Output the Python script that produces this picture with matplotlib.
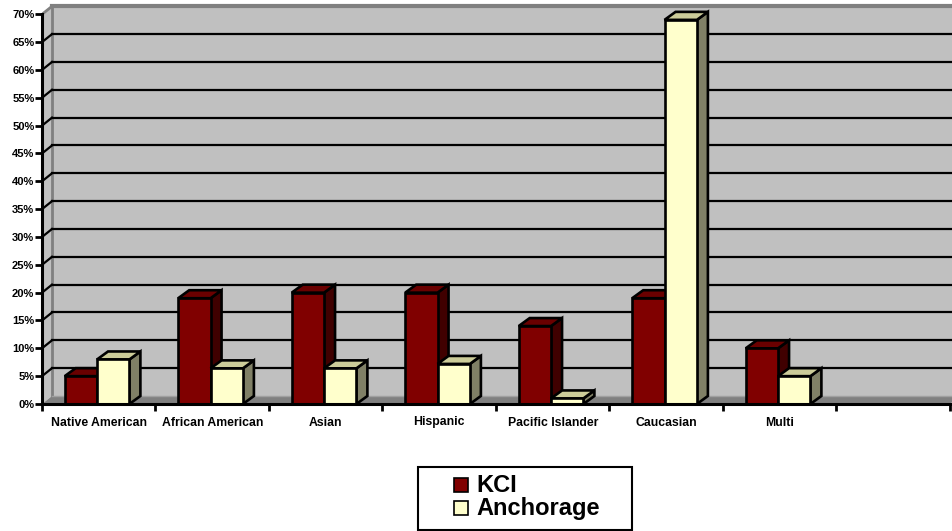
import matplotlib.pyplot as plt
from matplotlib.patches import Polygon, Rectangle

categories = ["Native American", "African American", "Asian", "Hispanic",
              "Pacific Islander", "Caucasian", "Multi", ""]
kci = [5, 19, 20, 20, 14, 19, 10]
anchorage = [8, 6.4, 6.4, 7.2, 1, 69, 5]
series_names = ["KCI", "Anchorage"]
yticks = list(range(0, 75, 5))

plt.rcParams['font.family'] = ['Liberation Sans', 'DejaVu Sans']

W, H = 953, 531
fig = plt.figure(figsize=(W / 100, H / 100), dpi=100)

# pixel geometry of the plot box
x0px, x1px = 42, 953
y0px, y70px = 404, 14.3
slot_px = 113.5
px_per_pct = (y0px - y70px) / 70.0
ddx = 10 / slot_px          # depth offset in category units
ddy = 8 / px_per_pct        # depth offset in percent units
bdx = 11 / slot_px          # bar depth
xmax = (x1px - x0px) / slot_px
ncat = len(categories)
ytop = 70 + ddy
top_px = y0px - ytop * px_per_pct

ax = fig.add_axes([x0px / W, (H - y0px) / H, (x1px - x0px) / W, (y0px - top_px) / H])
ax.set_xlim(0, xmax)
ax.set_ylim(0, ytop)

wall = "#c0c0c0"
edge_gray = "#808080"

# back wall, side wall, floor
ax.add_patch(Polygon([(ddx, ddy), (ncat + ddx, ddy), (ncat + ddx, ytop), (ddx, ytop)],
                     closed=True, fc=wall, ec="none", zorder=0, clip_on=False))
ax.add_patch(Polygon([(0, 0), (ddx, ddy), (ddx, ytop), (0, 70)],
                     closed=True, fc=wall, ec="none", zorder=0))
ax.add_patch(Polygon([(0, 0), (ncat, 0), (ncat + ddx, ddy), (ddx, ddy)],
                     closed=True, fc=edge_gray, ec="none", zorder=0, clip_on=False))
ax.plot([ddx, ddx], [ddy, ytop], color=edge_gray, lw=2, zorder=0.5)
ax.plot([ddx, ncat + ddx], [ytop, ytop], color=edge_gray, lw=3, zorder=0.5, clip_on=False)
ax.plot([0, ddx], [70, ytop], color=edge_gray, lw=2, zorder=0.5)
ax.plot([ddx, ncat + ddx], [ddy, ddy], color="#a0a0a0", lw=1, zorder=0.5, clip_on=False)

# gridlines on back and side walls
for v in yticks[1:-1]:
    ax.plot([ddx, ncat + ddx], [v + ddy, v + ddy], color="black", lw=1.6, zorder=0.6,
            clip_on=False)
    ax.plot([0, ddx], [v, v + ddy], color="black", lw=1.6, zorder=0.6)


def bar3d(x, w, v, front, top, side):
    kw = dict(closed=True, ec="black", lw=1.9, joinstyle="miter", zorder=2)
    ax.add_patch(Polygon([(x + w, 0), (x + w + bdx, ddy), (x + w + bdx, v + ddy), (x + w, v)],
                         fc=side, **kw))
    ax.add_patch(Polygon([(x, v), (x + w, v), (x + w + bdx, v + ddy), (x + bdx, v + ddy)],
                         fc=top, **kw))
    ax.add_patch(Polygon([(x, 0), (x + w, 0), (x + w, v), (x, v)], fc=front, **kw))


start, bw = 0.2, 0.285
kci_cols = ("#800000", "#6a0000", "#400000")
anc_cols = ("#ffffcc", "#cccc99", "#808066")
for i in range(len(kci)):
    bar3d(i + start, bw, kci[i], *kci_cols)
    bar3d(i + start + bw, bw, anchorage[i], *anc_cols)

# axes lines and ticks
for s in ("top", "right"):
    ax.spines[s].set_visible(False)
ax.spines["left"].set_bounds(0, 70)
ax.spines["bottom"].set_bounds(0, ncat)
for s in ("left", "bottom"):
    ax.spines[s].set_linewidth(2.2)
    ax.spines[s].set_zorder(3)

ax.set_yticks(yticks)
ax.set_yticklabels([f"{v}%" for v in yticks], fontsize=8, fontweight="bold")
ax.tick_params(axis="y", length=5, width=2, pad=0.5)

ax.set_xticks(range(ncat + 1))
ax.set_xticklabels([])
ax.set_xticks([i + 0.5 for i in range(ncat)], minor=True)
ax.set_xticklabels(categories, minor=True, fontsize=8.8, fontweight="bold")
ax.tick_params(axis="x", which="major", length=5, width=2)
ax.tick_params(axis="x", which="minor", length=0, pad=9)

# legend box
fig.add_artist(Rectangle((418 / W, (H - 530) / H), 214 / W, 63 / H, transform=fig.transFigure,
                         fc="white", ec="black", lw=1.5))
for j, (name, col) in enumerate(zip(series_names, (kci_cols[0], anc_cols[0]))):
    cy = 485 + j * 23
    fig.add_artist(Rectangle((454 / W, (H - cy - 7) / H), 14 / W, 14 / H,
                             transform=fig.transFigure, fc=col, ec="black", lw=1.2))
    fig.text(476 / W, (H - cy) / H, name, fontsize=17, fontweight="bold",
             va="center", ha="left")

fig.savefig("out.png", dpi=100)
